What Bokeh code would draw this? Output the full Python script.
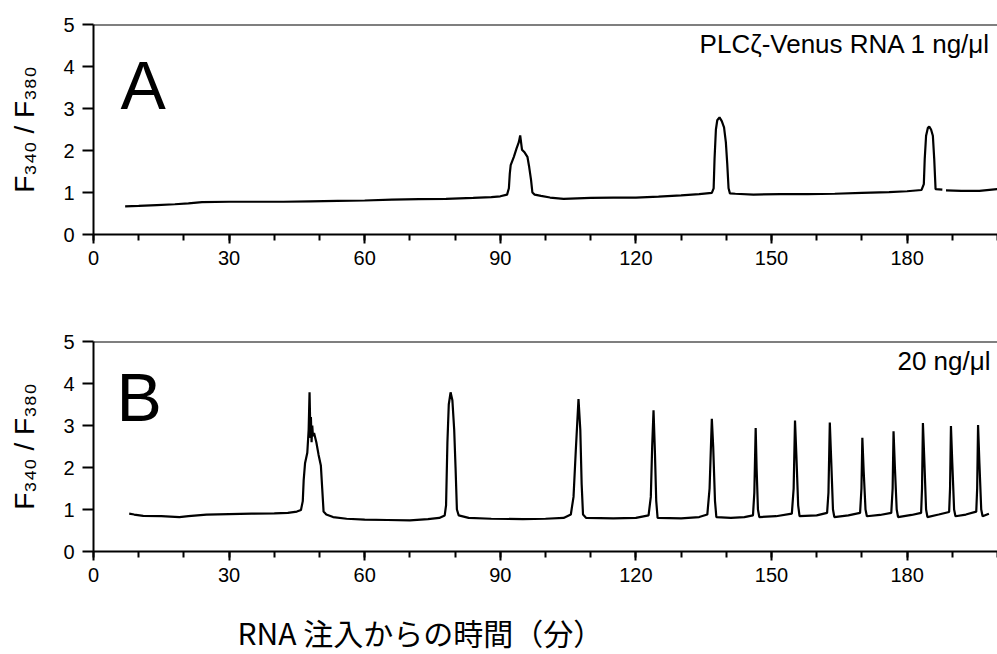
from bokeh.plotting import figure
from bokeh.models import Range1d, SingleIntervalTicker, FixedTicker, Span, Label
from bokeh.layouts import column
from bokeh.embed import file_html
from bokeh.resources import INLINE

nan = float("nan")

# Panel A: PLCzeta-Venus RNA 1 ng/ul (time in min, F340/F380 ratio)
a_time = [7, 10, 14, 18, 21, 24, 30, 36, 42, 48, 54, 60, 66, 72, 78, 84, 88, 90,
          91.5, 91.9, 92.1, 92.3, 93.0, 93.6, 94.1, 94.4, 94.8, 95.4, 96.0, 96.4, 96.8, 97.1, 97.6,
          99, 101, 104, 107, 110, 115, 120, 125, 130, 134,
          136.8, 137.2, 137.4, 137.7, 138.0, 138.5, 139.0, 139.5, 139.9, 140.2, 140.5, 140.8,
          142, 146, 152, 158, 164, 170, 176, 180,
          183.2, 183.7, 183.9, 184.2, 184.6, 184.9, 185.3, 185.7, 186.0, 186.3, 187.8,
          nan, 188.6, 192, 196, 200]
a_ratio = [0.67, 0.68, 0.70, 0.72, 0.74, 0.77, 0.78, 0.78, 0.78, 0.79, 0.80, 0.81, 0.83, 0.84, 0.85, 0.87, 0.89, 0.91,
           0.95, 1.10, 1.45, 1.65, 1.85, 2.05, 2.20, 2.36, 2.02, 1.95, 1.85, 1.60, 1.30, 1.00, 0.95,
           0.92, 0.88, 0.85, 0.86, 0.87, 0.88, 0.88, 0.90, 0.93, 0.96,
           0.99, 1.10, 1.80, 2.50, 2.72, 2.79, 2.70, 2.55, 2.20, 1.70, 1.10, 0.98,
           0.97, 0.95, 0.96, 0.96, 0.97, 0.99, 1.01, 1.03,
           1.06, 1.20, 1.80, 2.35, 2.54, 2.57, 2.50, 2.35, 1.80, 1.08, 1.07,
           nan, 1.05, 1.04, 1.04, 1.08]

# Panel B: 20 ng/ul
b_time = [7.9, 9, 11, 15, 19, 21, 25, 30, 35, 40, 43, 45, 45.9,
          46.3, 46.5, 46.8, 47.3, 47.6, 47.8, 48.0, 48.1, 48.25, 48.4, 48.55, 48.8, 49.3, 49.8, 50.3, 50.6, 50.9,
          51.5, 53, 56, 60, 65, 70, 74, 76.5, 77.7,
          78.0, 78.3, 78.6, 79.0, 79.4, 79.8, 80.1, 80.4, 80.8,
          83, 88, 95, 100, 104,
          105.6, 106.2, 106.7, 107.3, 107.7, 108.0, 108.3,
          109, 115, 120,
          122.8, 123.3, 123.6, 123.9, 124.2, 124.5, 124.8,
          130, 134,
          135.8, 136.3, 136.8, 137.1, 137.5, 137.8,
          141, 144,
          145.9, 146.2, 146.5, 146.7, 147.0, 147.3,
          151, 154.5, 154.9, 155.2, 155.5, 155.9, 156.2,
          160, 162.3, 162.6, 162.9, 163.2, 163.6, 163.9,
          167, 169.6, 169.9, 170.1, 170.4, 170.8, 171.1,
          174, 176.5, 176.8, 177.0, 177.3, 177.7, 178.0,
          181, 183.1, 183.3, 183.5, 183.8, 184.2, 184.5,
          187, 189.3, 189.5, 189.7, 190.0, 190.4, 190.7,
          193, 195.3, 195.5, 195.7, 196.0, 196.4, 196.7, 198.1]
b_ratio = [0.90, 0.88, 0.85, 0.84, 0.82, 0.84, 0.88, 0.89, 0.90, 0.91, 0.92, 0.95, 0.99,
           1.20, 1.70, 2.10, 2.35, 2.90, 3.79, 2.70, 3.20, 2.60, 3.00, 2.75, 2.82, 2.60, 2.30, 2.05, 1.50, 0.95,
           0.88, 0.82, 0.78, 0.76, 0.75, 0.74, 0.77, 0.80, 0.86,
           1.10, 2.60, 3.50, 3.79, 3.60, 2.90, 2.00, 1.00, 0.86,
           0.80, 0.78, 0.77, 0.78, 0.80,
           0.88, 1.30, 2.40, 3.63, 2.90, 1.60, 0.88,
           0.80, 0.79, 0.80,
           0.86, 1.30, 2.50, 3.36, 2.40, 1.20, 0.80,
           0.79, 0.82,
           0.88, 1.50, 3.16, 2.50, 1.20, 0.82,
           0.80, 0.82,
           0.86, 1.40, 2.94, 2.00, 1.00, 0.82,
           0.84, 0.90, 1.50, 3.12, 2.30, 1.10, 0.84,
           0.86, 0.92, 1.40, 3.07, 2.20, 1.00, 0.82,
           0.86, 0.92, 1.50, 2.71, 1.90, 1.00, 0.84,
           0.87, 0.92, 1.50, 2.86, 2.00, 1.00, 0.82,
           0.87, 0.92, 1.50, 3.06, 2.20, 1.00, 0.82,
           0.88, 0.94, 1.50, 2.99, 2.10, 1.00, 0.84,
           0.88, 0.95, 1.50, 3.01, 2.10, 1.00, 0.84, 0.90]

y_ticks = [0, 1, 2, 3, 4, 5]
y_label = "F\u2083\u2084\u2080 / F\u2083\u2088\u2080"
x_title = "RNA 注入からの時間（分）"

FONT = "Liberation Sans"


def make_panel(t, v, height, top, bottom, letter, letter_x, letter_y, note):
    p = figure(width=997, height=height, x_range=Range1d(0, 200), y_range=Range1d(0, 5),
               output_backend="svg", toolbar_location=None,
               min_border_left=93, min_border_right=0,
               min_border_top=top, min_border_bottom=bottom)
    p.outline_line_color = None
    p.grid.visible = False
    p.background_fill_color = "white"
    p.border_fill_color = "white"
    p.line(t, v, line_color="black", line_width=2.2)

    p.add_layout(Span(location=5, dimension="width", line_color="black", line_width=2))

    xa = p.xaxis[0]
    xa.ticker = SingleIntervalTicker(interval=30, num_minor_ticks=3)
    xa.axis_line_width = 2
    xa.major_tick_line_width = 2
    xa.minor_tick_line_width = 2
    xa.major_tick_out = 9
    xa.major_tick_in = 0
    xa.minor_tick_out = 6
    xa.minor_tick_in = 0
    xa.major_label_standoff = 7
    xa.major_label_text_font = FONT
    xa.major_label_text_font_size = "20px"
    xa.major_label_text_color = "black"

    ya = p.yaxis[0]
    ya.ticker = FixedTicker(ticks=y_ticks)
    ya.axis_line_width = 2
    ya.major_tick_line_width = 2
    ya.major_tick_out = 11
    ya.major_tick_in = 0
    ya.minor_tick_line_color = None
    ya.major_label_standoff = 8
    ya.major_label_text_font = FONT
    ya.major_label_text_font_size = "20px"
    ya.major_label_text_color = "black"
    ya.axis_label = y_label
    ya.axis_label_text_font = FONT
    ya.axis_label_text_font_size = "28px"
    ya.axis_label_text_font_style = "normal"
    ya.axis_label_text_color = "black"
    ya.axis_label_standoff = 20

    p.add_layout(Label(x=letter_x, y=letter_y, x_units="screen", y_units="screen", text=letter,
                       text_font=FONT, text_font_size="68px", text_color="black",
                       text_baseline="alphabetic", text_align="left"))
    p.add_layout(Label(x=897, y=191, x_units="screen", y_units="screen", text=note,
                       text_font=FONT, text_font_size="26px", text_color="black",
                       text_baseline="alphabetic", text_align="right"))
    return p


pa = make_panel(a_time, a_ratio, 300, 24, 66, "A", 27, 150, "PLCζ-Venus RNA 1 ng/μl")
pb = make_panel(b_time, b_ratio, 300, 41, 49, "B", 23, 155, "20 ng/μl")

# strip holding the shared x-axis title; its frame spans page x 93..997
pc = figure(width=997, height=54, x_range=Range1d(93, 997), y_range=Range1d(0, 54),
            output_backend="svg", toolbar_location=None,
            x_axis_type=None, y_axis_type=None,
            min_border_left=93, min_border_right=0, min_border_top=0, min_border_bottom=0)
pc.outline_line_color = None
pc.grid.visible = False
pc.add_layout(Label(x=237, y=23, text=x_title, text_font="Noto Sans CJK JP",
                    text_font_size="30px", text_color="black",
                    text_baseline="middle", text_align="left"))

layout = column(pa, pb, pc, spacing=0)
open("out.html", "w").write(file_html(layout, INLINE))
